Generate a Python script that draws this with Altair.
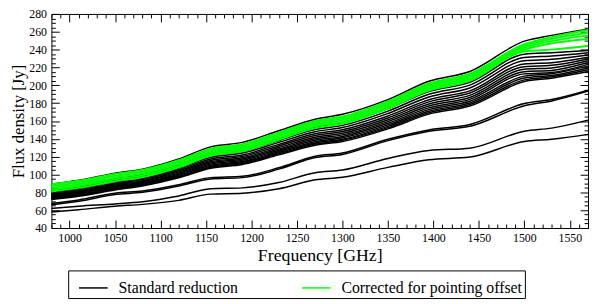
import altair as alt
import pandas as pd

FREQ = [980, 1010, 1050, 1080, 1120, 1155, 1190, 1230, 1270, 1300, 1350, 1395, 1440, 1500, 1530, 1570]

STANDARD = [
    [89.0, 93.5, 101.5, 106.0, 117.5, 131.0, 136.0, 149.0, 162.0, 167.5, 184.0, 204.5, 215.5, 249.5, 256.0, 263.0],
    [82.9, 87.0, 95.0, 100.3, 110.8, 123.2, 128.0, 140.4, 152.8, 157.6, 173.8, 192.9, 203.4, 234.9, 236.6, 239.0],
    [81.6, 85.6, 93.5, 98.7, 109.0, 121.3, 126.0, 138.2, 150.4, 155.1, 171.1, 189.9, 200.2, 231.2, 232.8, 236.5],
    [80.3, 84.3, 92.0, 97.1, 107.3, 119.3, 124.0, 136.0, 148.0, 152.6, 168.4, 186.9, 197.0, 227.6, 229.1, 234.0],
    [79.0, 82.9, 90.5, 95.6, 105.6, 117.4, 121.9, 133.8, 145.6, 150.2, 165.6, 183.8, 193.8, 223.9, 225.4, 231.5],
    [77.9, 81.8, 89.4, 94.3, 104.2, 115.8, 120.3, 132.0, 143.7, 148.2, 163.4, 181.4, 191.3, 220.9, 222.4, 229.5],
    [76.9, 80.7, 88.2, 93.0, 102.8, 114.3, 118.7, 130.2, 141.8, 146.2, 161.3, 179.0, 188.7, 218.0, 219.5, 227.5],
    [76.0, 79.7, 87.1, 91.9, 101.5, 112.9, 117.3, 128.6, 140.0, 144.4, 159.3, 176.8, 186.4, 215.3, 216.7, 225.5],
    [75.1, 78.8, 86.1, 90.8, 100.3, 111.6, 115.9, 127.2, 138.4, 142.7, 157.4, 174.7, 184.2, 212.8, 214.3, 223.5],
    [74.2, 77.9, 85.1, 89.8, 99.2, 110.3, 114.6, 125.7, 136.8, 141.1, 155.6, 172.7, 182.1, 210.3, 213.0, 221.5],
    [73.4, 77.1, 84.2, 88.8, 98.1, 109.1, 113.4, 124.4, 135.4, 139.6, 154.0, 170.9, 180.2, 208.1, 211.0, 219.5],
    [72.7, 76.3, 83.4, 88.0, 97.2, 108.1, 112.3, 123.2, 134.1, 138.3, 152.5, 169.3, 178.5, 206.1, 209.5, 217.5],
    [72.0, 75.6, 82.6, 87.2, 96.3, 107.1, 111.2, 122.0, 132.8, 137.0, 151.1, 167.7, 176.8, 204.2, 208.0, 215.5],
    [67.5, 71.5, 79.0, 81.5, 88.5, 96.5, 98.0, 107.5, 120.5, 124.0, 139.5, 150.0, 156.0, 179.5, 184.0, 194.5],
    [66.0, 70.0, 77.5, 80.0, 87.0, 95.0, 96.5, 106.0, 119.0, 122.5, 138.0, 148.5, 154.0, 177.0, 182.5, 193.5],
    [62.0, 64.5, 67.0, 69.5, 76.0, 84.0, 85.0, 91.0, 102.0, 105.0, 118.0, 127.0, 129.5, 148.5, 152.0, 161.0],
    [58.0, 60.5, 64.5, 66.5, 71.0, 78.0, 79.0, 84.0, 94.0, 97.0, 108.0, 116.5, 119.5, 137.0, 139.5, 145.0],
]

CORRECTED = [
    [89.0, 93.0, 100.5, 105.0, 116.0, 129.0, 134.0, 147.0, 160.0, 165.0, 182.0, 202.0, 213.0, 246.0, 254.0, 262.0],
    [87.0, 91.0, 98.5, 103.0, 114.0, 127.0, 132.0, 145.0, 158.0, 163.0, 180.0, 200.0, 211.0, 244.0, 252.0, 259.0],
    [85.0, 89.0, 96.5, 101.0, 112.0, 125.0, 130.0, 143.0, 156.0, 161.0, 178.0, 198.0, 209.0, 242.0, 249.5, 256.0],
    [83.0, 87.0, 94.5, 99.0, 110.0, 123.0, 128.0, 141.0, 154.0, 159.0, 176.0, 196.0, 207.0, 240.0, 247.0, 252.0],
    [81.0, 85.0, 92.5, 97.0, 108.0, 121.0, 126.0, 139.0, 152.0, 157.0, 174.0, 194.0, 205.0, 238.0, 240.0, 244.0],
]

SERIES = ["Standard reduction", "Corrected for pointing offset"]
COLORS = ["#000000", "#00ff00"]

X_LABELS = list(range(1000, 1551, 50))
Y_LABELS = list(range(40, 281, 20))
X_TICKS = list(range(980, 1571, 10))
Y_TICKS = list(range(40, 281, 5))

rows = []
for i, line in enumerate(STANDARD):
    for f, v in zip(FREQ, line):
        rows.append({"freq": f, "flux": v, "series": SERIES[0], "line": f"s{i}"})
for i, line in enumerate(CORRECTED):
    for f, v in zip(FREQ, line):
        rows.append({"freq": f, "flux": v, "series": SERIES[1], "line": f"c{i}"})
df = pd.DataFrame(rows)

W, H = 544, 217
FONT = "Liberation Serif"

xs = alt.Scale(domain=[980, 1570], nice=False, zero=False)
ys = alt.Scale(domain=[40, 280], nice=False, zero=False)
cs = alt.Scale(domain=SERIES, range=COLORS)

legend = alt.Legend(
    orient="none", legendX=17, legendY=260, direction="horizontal", columns=2,
    title=None, symbolType="stroke", symbolSize=841, symbolStrokeWidth=1.5,
    labelFont=FONT, labelFontSize=16, labelColor="black", labelLimit=400,
    strokeColor="black", fillColor="white", padding=2, symbolOffset=8,
    labelOffset=10, columnPadding=55, cornerRadius=0,
)

black = alt.Chart(df[df.series == SERIES[0]]).mark_line(
    strokeWidth=1.5, interpolate="monotone"
).encode(
    x=alt.X("freq:Q", scale=xs, axis=alt.Axis(
        orient="bottom", values=X_LABELS, format="d", tickSize=0, domain=False,
        grid=False, labelFont=FONT, labelFontSize=12, labelPadding=5,
        labelColor="black", title="Frequency [GHz]", titleFont=FONT,
        titleFontSize=18, titleFontWeight="normal", titlePadding=3,
        titleColor="black")),
    y=alt.Y("flux:Q", scale=ys, axis=alt.Axis(
        orient="left", values=Y_LABELS, format="d", tickSize=0, domain=False,
        grid=False, labelFont=FONT, labelFontSize=12, labelPadding=5,
        labelColor="black", title="Flux density [Jy]", titleFont=FONT,
        titleFontSize=17, titleFontWeight="normal", titlePadding=1,
        titleColor="black")),
    color=alt.Color("series:N", scale=cs, legend=legend),
    detail="line:N",
)

green = alt.Chart(df[df.series == SERIES[1]]).mark_line(
    strokeWidth=2.0, interpolate="monotone"
).encode(
    x=alt.X("freq:Q", scale=xs, axis=None),
    y=alt.Y("flux:Q", scale=ys, axis=None),
    color=alt.Color("series:N", scale=cs, legend=legend),
    detail="line:N",
)

xsize = {"condition": {"test": "datum.value % 50 === 0", "value": 8}, "value": 4}
ysize = {"condition": {"test": "datum.value % 20 === 0", "value": 8}, "value": 4}

frame = pd.DataFrame({"freq": [980, 1570], "flux": [40, 280]})

def tick_layer(xorient, yorient):
    return alt.Chart(frame).mark_point(opacity=0).encode(
        x=alt.X("freq:Q", scale=xs, axis=alt.Axis(
            orient=xorient, offset=-H, values=X_TICKS, labels=False, domain=False,
            grid=False, title="", tickColor="black", tickWidth=1, tickSize=xsize)),
        y=alt.Y("flux:Q", scale=ys, axis=alt.Axis(
            orient=yorient, offset=-W, values=Y_TICKS, labels=False, domain=False,
            grid=False, title="", tickColor="black", tickWidth=1, tickSize=ysize)),
    )

chart = alt.layer(
    black, green, tick_layer("top", "right"), tick_layer("bottom", "left")
).resolve_scale(x="independent", y="independent").properties(
    width=W, height=H, autosize="none",
    padding={"left": 44, "top": 4, "right": 2, "bottom": 75},
).configure_view(stroke="black", strokeWidth=1)

chart.save("out.html", embed_options={"renderer": "svg", "actions": False})
